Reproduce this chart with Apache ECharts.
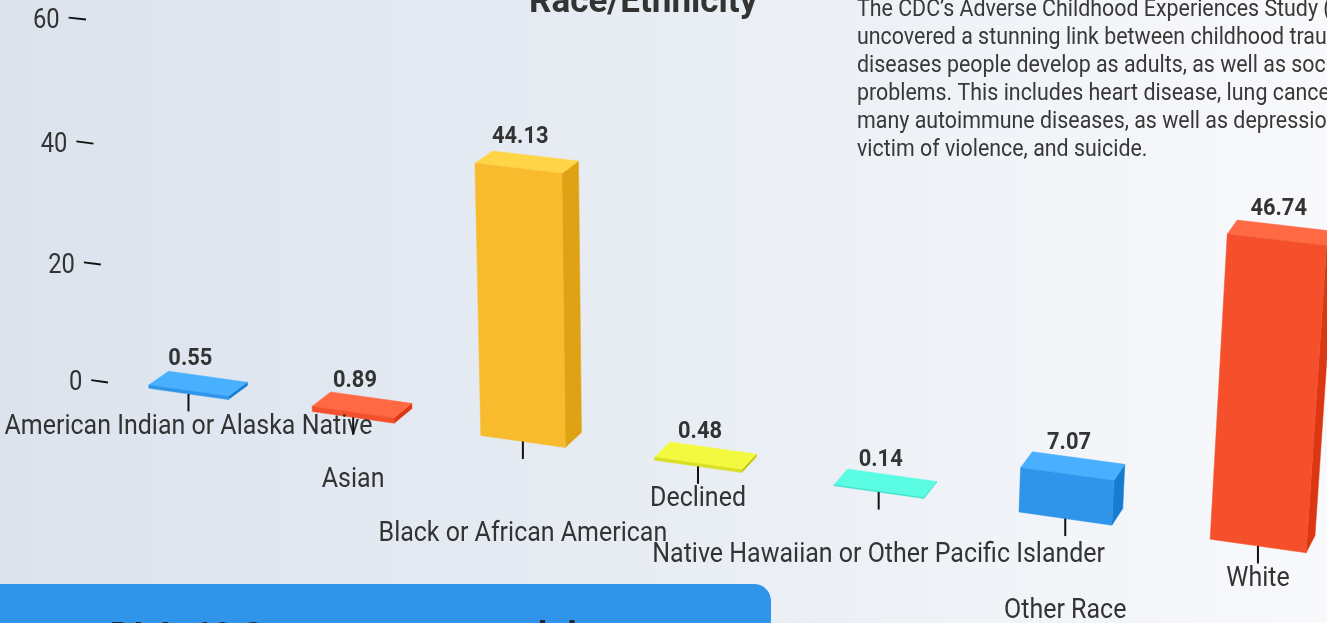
<!DOCTYPE html>
<html><head><meta charset="utf-8">
<script src="https://cdn.jsdelivr.net/npm/echarts@6/dist/echarts.min.js"></script>
<style>html,body{margin:0;padding:0;overflow:hidden;background:#e9edf3}#c{width:1327px;height:623px}</style>
</head><body><div id="c"></div>
<script>
// ---------- data ----------
const categories = ['American Indian or Alaska Native', 'Asian', 'Black or African American', 'Declined',
  'Native Hawaiian or Other Pacific Islander', 'Other Race', 'White'];
const values = [0.55, 0.89, 44.13, 0.48, 0.14, 7.07, 46.74];
const yTicks = [0, 20, 40, 60];
const palette = ['#2f95ea', '#f5502b', '#f7bb2d', '#d9df24', '#40e3c9'];
const titleText = 'Race/Ethnicity';
const introLines = [
  'The CDC\u2019s Adverse Childhood Experiences Study (ACE Study)',
  'uncovered a stunning link between childhood trauma and the chronic',
  'diseases people develop as adults, as well as social and emotional',
  'problems. This includes heart disease, lung cancer, diabetes and',
  'many autoimmune diseases, as well as depression, violence, being a',
  'victim of violence, and suicide.'
];
const footerText = 'DLA-60 Success among adults';

// ---------- layout (3D view) ----------
// projective camera: (u = category units, v = value units, z = depth 0..1) -> screen
const CAM = {
  x: [158.16, -0.4193, 21.5, 108],
  y: [17.01, -6.062, -10.0, 382.5],
  w: [-0.01491, -0.000612, 0.0103, 1]
};
const BAR_W = 0.49, DEPTH = 1;
const FONT = 'Roboto';
const TXT = '#333333';

function project(u, v, z) {
  const X = CAM.x[0] * u + CAM.x[1] * v + CAM.x[2] * z + CAM.x[3];
  const Y = CAM.y[0] * u + CAM.y[1] * v + CAM.y[2] * z + CAM.y[3];
  const W = CAM.w[0] * u + CAM.w[1] * v + CAM.w[2] * z + CAM.w[3];
  return [X / W, Y / W];
}
// convert a data point to (u, v) model units through the cartesian scales
function toUV(api, idx, val) {
  const p = api.coord([idx, val]);
  const o = api.coord([0, 0]);
  const band = api.size([1, 0])[0];
  const unit = api.size([0, 1])[1];
  return [(p[0] - o[0]) / band + 0.5, (o[1] - p[1]) / unit];
}
function shade(hex, a) {
  const n = parseInt(hex.slice(1), 16);
  const c = [(n >> 16) & 255, (n >> 8) & 255, n & 255].map(x => Math.max(0, Math.min(255, Math.round(x + 255 * a))));
  return 'rgb(' + c.join(',') + ')';
}
// text element placed at (x, y), horizontally condensed by sx
function txt(text, x, y, font, fill, align, valign, sx) {
  return {
    type: 'text', x: x, y: y, scaleX: sx || 1, scaleY: 1,
    style: { text, x: 0, y: 0, font, fill, align, verticalAlign: valign, textAlign: align, textVerticalAlign: valign }
  };
}

function renderBar(params, api) {
  const i = api.value(0), val = api.value(1);
  const b = toUV(api, i, 0), t = toUV(api, i, val);
  const u0 = b[0] - BAR_W / 2, u1 = b[0] + BAR_W / 2, v0 = b[1], v1 = t[1];
  const base = palette[i % palette.length];
  const front = [project(u0, v0, 0), project(u1, v0, 0), project(u1, v1, 0), project(u0, v1, 0)];
  const top = [project(u0, v1, 0), project(u1, v1, 0), project(u1, v1, DEPTH), project(u0, v1, DEPTH)];
  const side = [project(u1, v0, 0), project(u1, v1, 0), project(u1, v1, DEPTH), project(u1, v0, DEPTH)];
  const lab = project(b[0], v1, 0);
  const sideC = shade(base, -0.1), topC = shade(base, 0.1);
  return {
    type: 'group', children: [
      { type: 'polygon', shape: { points: side }, style: { fill: sideC, stroke: sideC, lineWidth: 0.5 } },
      { type: 'polygon', shape: { points: top }, style: { fill: topC, stroke: topC, lineWidth: 0.5 } },
      { type: 'polygon', shape: { points: front }, style: { fill: base, stroke: base, lineWidth: 0.5 } },
      txt(val.toFixed(2), lab[0] + 2, lab[1] - 31, 'bold 23px ' + FONT, TXT, 'center', 'middle', 0.95)
    ]
  };
}

function renderXAxis(params, api) {
  const i = api.value(0);
  const b = toUV(api, i, 0);
  const p = project(b[0], b[1], 0);
  const row = i % 3;
  return {
    type: 'group', children: [
      { type: 'line', shape: { x1: p[0], y1: p[1], x2: p[0], y2: p[1] + 17.5 }, style: { stroke: '#111', lineWidth: 2 } },
      txt(categories[i], p[0], p[1] + 17.5 + 15.5 + 30 * row, '27px ' + FONT, TXT, 'center', 'middle', 0.925)
    ]
  };
}

function renderYAxis(params, api) {
  const v = api.value(1);
  const e = toUV(api, 0, v);
  const uEdge = e[0] - 0.5;
  const p1 = project(uEdge, e[1], 0);
  const p0 = project(uEdge - 0.105, e[1], 0);
  return {
    type: 'group', children: [
      { type: 'line', shape: { x1: p0[0], y1: p0[1], x2: p1[0], y2: p1[1] }, style: { stroke: '#111', lineWidth: 1.8 } },
      txt(String(v), p0[0] - 9, p0[1] + 3.5, '27px ' + FONT, TXT, 'right', 'middle', 0.88)
    ]
  };
}

const chart = echarts.init(document.getElementById('c'), null, { renderer: 'canvas' });
const graphics = [
  { type: 'rect', z: 1, shape: { x: 0, y: 584, width: 771, height: 120, r: [0, 17, 0, 0] }, style: { fill: '#2f94ea' } },
  Object.assign(txt(footerText, 110, 639, 'bold 36px ' + FONT, '#1f2733', 'left', 'middle', 1), { z: 2 }),
  Object.assign(txt(titleText, 529, 3.5, 'bold 35px ' + FONT, TXT, 'left', 'middle', 1), { z: 2 })
];
introLines.forEach((line, k) => {
  graphics.push(Object.assign(txt(line, 857, 16 + 28 * k - 6, '23px ' + FONT, '#383838', 'left', 'middle', 0.93), { z: 2 }));
});

chart.setOption({
  animation: false,
  backgroundColor: {
    type: 'linear', x: 0, y: 0, x2: 1, y2: 0,
    colorStops: [{ offset: 0, color: '#dce3ed' }, { offset: 0.5, color: '#e8edf4' }, { offset: 1, color: '#f8f9fb' }]
  },
  grid: { left: 0, top: 0, width: 700, height: 600, show: false },
  xAxis: { type: 'category', data: categories, show: false },
  yAxis: { type: 'value', min: 0, max: 60, interval: 20, show: false },
  graphic: graphics,
  series: [
    { type: 'custom', name: 'bars', z: 2, silent: true, renderItem: renderBar, encode: { x: 0, y: 1 },
      data: values.map((v, i) => [i, v]) },
    { type: 'custom', name: 'xaxis', z: 3, silent: true, renderItem: renderXAxis, encode: { x: 0, y: 1 },
      data: categories.map((c, i) => [i, 0]) },
    { type: 'custom', name: 'yaxis', z: 3, silent: true, renderItem: renderYAxis, encode: { x: 0, y: 1 },
      data: yTicks.map(v => [0, v]) }
  ]
});
</script></body></html>
